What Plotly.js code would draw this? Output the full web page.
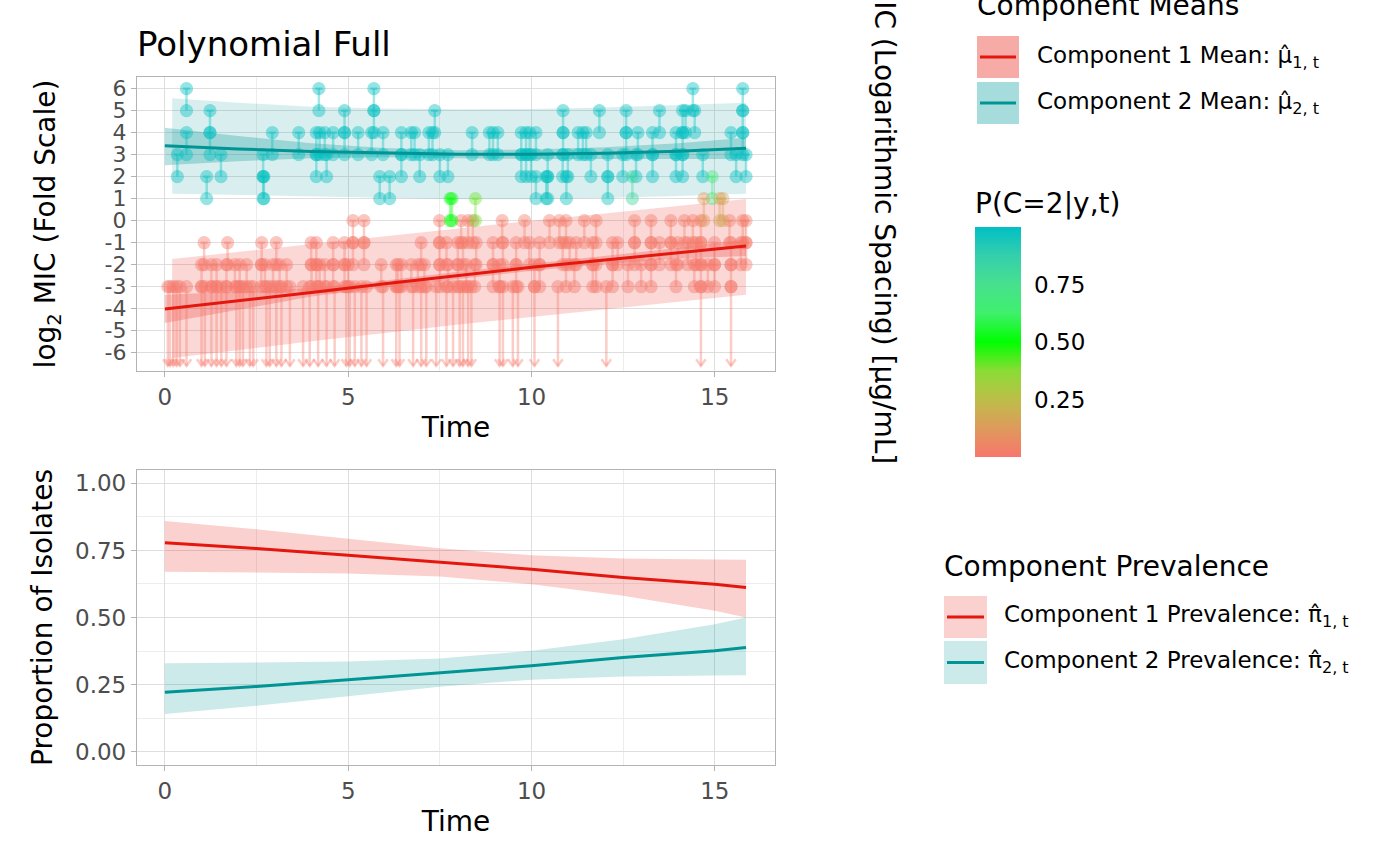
<!DOCTYPE html>
<html>
<head>
<meta charset="utf-8">
<script src="https://cdn.plot.ly/plotly-3.0.1.min.js"></script>
<style>body{margin:0;background:#fff}#plot{width:1400px;height:865px}</style>
</head>
<body>
<div id="plot"></div>
<script>
let plot_div = document.getElementById('plot')

// Fitted component means on the log2 MIC scale, with confidence bands
const fit_time = [0, 2, 4, 6, 8, 10, 12, 14, 15.85]
const mu1 = [-4.01, -3.64, -3.26, -2.86, -2.48, -2.12, -1.79, -1.47, -1.15]
const mu1_lo = [-4.65, -4.05, -3.45, -3.02, -2.64, -2.28, -1.97, -1.72, -1.6]
const mu1_hi = [-3.37, -3.23, -3.07, -2.72, -2.32, -1.96, -1.6, -1.24, -0.85]
const mu2 = [3.41, 3.26, 3.15, 3.07, 3.02, 3.02, 3.07, 3.16, 3.29]
const mu2_lo = [2.52, 2.7, 2.84, 2.88, 2.84, 2.8, 2.8, 2.8, 2.8]
const mu2_hi = [4.22, 3.85, 3.52, 3.3, 3.2, 3.24, 3.34, 3.52, 3.77]

// Prediction bands
const pred_time = [0.2, 2, 4, 6, 8, 10, 12, 14, 15.85]
const pred1_lo = [-6.24, -5.87, -5.48, -5.1, -4.72, -4.38, -4.04, -3.7, -3.36]
const pred1_hi = [-1.74, -1.42, -1.07, -0.7, -0.33, 0.0, 0.33, 0.68, 0.99]
const pred2_lo = [1.23, 1.17, 1.12, 1.03, 0.98, 0.98, 1.03, 1.12, 1.22]
const pred2_hi = [5.56, 5.36, 5.18, 5.1, 5.06, 5.08, 5.14, 5.24, 5.36]

// Component prevalence
const prev_time = [0, 2.5, 5, 7.5, 10, 12.5, 15, 15.85]
const pi1 = [0.779, 0.757, 0.732, 0.707, 0.680, 0.649, 0.624, 0.612]
const pi1_lo = [0.671, 0.667, 0.664, 0.653, 0.624, 0.581, 0.525, 0.500]
const pi1_hi = [0.860, 0.829, 0.794, 0.758, 0.732, 0.720, 0.716, 0.715]
const pi2 = [0.221, 0.243, 0.268, 0.293, 0.320, 0.351, 0.376, 0.388]
const pi2_lo = [0.140, 0.171, 0.206, 0.242, 0.268, 0.280, 0.284, 0.285]
const pi2_hi = [0.329, 0.333, 0.336, 0.347, 0.376, 0.419, 0.475, 0.500]

// Observed isolates, by log2 MIC interval
const cens_time = [0.08, 0.14, 0.23, 0.32, 0.41, 0.59, 1.0, 1.09, 1.27, 1.41, 1.54, 1.68, 1.95, 2.04,
  2.13, 2.32, 2.41, 2.77, 2.86, 3.04, 3.18, 3.41, 3.77, 3.95, 4.18, 4.41, 4.63, 4.95, 5.04, 5.18,
  5.36, 5.5, 5.95, 6.31, 6.4, 6.77, 6.99, 7.13, 7.4, 7.68, 7.86, 8.04, 8.13, 8.27, 8.36, 9.13,
  9.22, 9.49, 9.63, 10.08, 10.72, 12.04, 14.62, 15.44]   // MIC <= 0.125
const red_m3 = [1.0, 1.27, 1.41, 1.68, 1.91, 2.04, 2.23, 2.63, 2.73, 2.95, 3.13, 3.32, 4.0, 4.13,
  4.22, 4.36, 4.59, 4.9, 5.0, 5.9, 6.31, 6.36, 6.45, 6.72, 6.9, 7.08, 7.5, 7.72, 7.99, 8.22, 8.45,
  8.95, 9.13, 9.58, 10.08, 10.22, 10.94, 11.17, 11.67, 11.76, 12.21, 12.63, 12.99, 13.26, 13.94,
  14.44, 14.62, 14.81, 14.99, 15.44]   // (-3, -2]
const red_m2 = [1.07, 1.71, 2.64, 3.04, 3.99, 4.13, 4.59, 4.9, 5.13, 5.43, 6.99, 7.49, 7.68, 7.99,
  8.13, 8.49, 8.95, 9.22, 9.58, 9.94, 10.22, 10.85, 11.04, 11.22, 11.67, 12.21, 12.35, 12.81,
  13.26, 13.49, 13.8, 13.99, 14.26, 14.49, 14.62, 14.99, 15.44, 15.71, 15.85]   // (-2, -1]
const red_m1 = [5.13, 5.43, 7.49, 8.08, 8.27, 8.4, 9.2, 9.81, 10.49, 10.76, 10.94, 11.44, 11.76,
  12.81, 13.26, 13.8, 14.17, 14.4, 14.62, 15.4, 15.76, 15.85]   // (-1, 0]
const cyan_5 = [0.59, 4.2, 5.7, 14.4, 15.76]   // (5, 6]
const cyan_4 = [1.23, 4.9, 5.7, 7.36, 10.86, 11.85, 12.58, 13.49, 14.12, 14.2, 14.45, 15.76]
const cyan_3 = [0.59, 1.23, 2.93, 3.65, 4.13, 4.22, 4.36, 4.59, 4.9, 5.27, 5.64, 5.95, 6.45, 6.72,
  6.81, 7.2, 7.3, 8.38, 8.85, 8.95, 9.08, 9.72, 9.85, 9.95, 10.12, 10.86, 11.27, 11.4, 11.49,
  12.58, 12.9, 13.3, 13.94, 14.12, 15.44, 15.76]
const cyan_2 = [0.34, 1.53, 2.68, 4.13, 4.41, 6.45, 6.95, 7.5, 7.72, 9.72, 9.85, 9.99, 10.44,
  10.85, 10.99, 11.62, 12.08, 12.49, 12.85, 13.3, 13.94, 14.12, 14.67, 15.58, 15.85]
const cyan_1 = [1.14, 2.68, 2.7, 5.86, 6.13, 10.12, 10.4, 10.44, 10.95, 12.08]
const mix_time = [7.78, 7.83, 8.47, 12.75, 14.93, 14.7, 15.13, 15.22]
const mix_low = [0, 0, 0, 1, 1, 0, 0, 0]
const mix_high = [1, 1, 1, 2, 2, 1, 1, 1]
const mix_p = [0.5, 0.52, 0.4, 0.82, 0.68, 0.12, 0.15, 0.16]

const log2_ticks = [6, 5, 4, 3, 2, 1, 0, -1, -2, -3, -4, -5, -6]
const mic_labels = ['64', '32', '16', '8', '4', '2', '1', '0.5', '0.25', '0.125', '0.06', '0.03', '0.016']
const prob_ticks = [0.25, 0.5, 0.75]

const RED = '#E3170D', TEAL = '#009494'
const colorscale = [[0, '#F8766D'], [0.125, '#DE9A5C'], [0.25, '#BDBE49'], [0.375, '#8ADC35'],
  [0.5, '#00FF00'], [0.625, '#3FF06C'], [0.75, '#47E08E'], [0.875, '#35CFAC'], [1, '#00BFC4']]

function hex(c) { return [1, 3, 5].map(i => parseInt(c.substr(i, 2), 16)) }

function color_for(p, alpha) {
  let i = 1
  while (i < colorscale.length - 1 && colorscale[i][0] < p) i++
  let [p0, c0] = colorscale[i - 1], [p1, c1] = colorscale[i]
  let f = (p - p0) / (p1 - p0), a = hex(c0), b = hex(c1)
  let rgb = a.map((v, k) => Math.round(v + (b[k] - v) * f))
  return 'rgba(' + rgb.join(',') + ',' + alpha + ')'
}

// pixel -> paper helpers for the hand-drawn legends
function px(x) { return (x - 137) / (775 - 137) }
function py(y) { return (765 - y) / (765 - 77) }

const groups = [
  {time: cens_time, low: null, high: -3, p: 0.01},
  {time: red_m3, low: -3, high: -2, p: 0.01},
  {time: red_m2, low: -2, high: -1, p: 0.01},
  {time: red_m1, low: -1, high: 0, p: 0.02},
  {time: cyan_1, low: 1, high: 2, p: 0.98},
  {time: cyan_2, low: 2, high: 3, p: 0.99},
  {time: cyan_3, low: 3, high: 4, p: 0.99},
  {time: cyan_4, low: 4, high: 5, p: 0.99},
  {time: cyan_5, low: 5, high: 6, p: 0.99},
]
for (let [i, t] of mix_time.entries()) {
  groups.push({time: [t], low: mix_low[i], high: mix_high[i], p: mix_p[i]})
}

// Build interval segments (one trace per colour) and end-point markers
const ARROW_END = -6.6
let segs = {}
let mx = [], my = [], mp = []

function add_seg(key, xs, ys) {
  if (!segs[key]) segs[key] = {x: [], y: []}
  segs[key].x.push(...xs, null)
  segs[key].y.push(...ys, null)
}

for (let g of groups) {
  let col = color_for(g.p, 0.38)
  for (let t of g.time) {
    if (g.low === null) {
      add_seg(col, [t, t], [g.high, ARROW_END])
      add_seg(col, [t - 0.13, t, t + 0.13], [ARROW_END + 0.3, ARROW_END, ARROW_END + 0.3])
    } else {
      add_seg(col, [t, t], [g.low, g.high])
      add_seg(col, [t - 0.1, t + 0.1], [g.high, g.high])
      mx.push(t); my.push(g.low); mp.push(g.p)
    }
    mx.push(t); my.push(g.high); mp.push(g.p)
  }
}

var data = []

function band(x, lo, hi, fill, xa, ya) {
  data.push({x: x, y: lo, xaxis: xa, yaxis: ya, mode: 'lines', line: {width: 0}, hoverinfo: 'skip'})
  data.push({x: x, y: hi, xaxis: xa, yaxis: ya, mode: 'lines', line: {width: 0}, fill: 'tonexty',
             fillcolor: fill, hoverinfo: 'skip'})
}

band(pred_time, pred2_lo, pred2_hi, 'rgba(0,148,148,0.15)', 'x', 'y')
band(pred_time, pred1_lo, pred1_hi, 'rgba(232,40,30,0.18)', 'x', 'y')
band(fit_time, mu2_lo, mu2_hi, 'rgba(0,148,148,0.28)', 'x', 'y')
band(fit_time, mu1_lo, mu1_hi, 'rgba(232,40,30,0.25)', 'x', 'y')

for (let key in segs) {
  data.push({x: segs[key].x, y: segs[key].y, xaxis: 'x', yaxis: 'y', mode: 'lines',
             line: {color: key, width: 2.5}, hoverinfo: 'skip'})
}

// colour bar: bar itself spans pixels 227..457, title above it.
// Plotly's own ticks are kept white and outside (invisible) so the labels sit
// where ggplot puts them; the visible white marks are drawn as shapes below.
data.push({
  x: mx, y: my, xaxis: 'x', yaxis: 'y', mode: 'markers', type: 'scatter',
  marker: {
    size: 12, color: mp, colorscale: colorscale, cmin: 0, cmax: 1, opacity: 0.42,
    line: {width: 1.2, color: mp, colorscale: colorscale, cmin: 0, cmax: 1},
    showscale: true,
    colorbar: {
      x: px(975), xanchor: 'left', xpad: 0,
      y: py(323), yanchor: 'middle', ypad: 0,
      len: 268, lenmode: 'pixels', thickness: 46, thicknessmode: 'pixels',
      outlinewidth: 0,
      tickvals: prob_ticks, ticktext: prob_ticks.map(v => v.toFixed(2)),
      ticks: 'outside', ticklen: 9, tickwidth: 1, tickcolor: 'white',
      tickfont: {size: 23, color: 'black'},
      title: {text: 'P(C=2|y,t)', side: 'top', font: {size: 28}}
    }
  }
})

data.push({x: fit_time, y: mu2, xaxis: 'x', yaxis: 'y', mode: 'lines', line: {color: TEAL, width: 3}})
data.push({x: fit_time, y: mu1, xaxis: 'x', yaxis: 'y', mode: 'lines', line: {color: RED, width: 3}})

band(prev_time, pi1_lo, pi1_hi, 'rgba(232,24,16,0.2)', 'x2', 'y2')
band(prev_time, pi2_lo, pi2_hi, 'rgba(0,148,148,0.2)', 'x2', 'y2')
data.push({x: prev_time, y: pi1, xaxis: 'x2', yaxis: 'y2', mode: 'lines', line: {color: RED, width: 3}})
data.push({x: prev_time, y: pi2, xaxis: 'x2', yaxis: 'y2', mode: 'lines', line: {color: TEAL, width: 3}})

function axis(extra) {
  return Object.assign({
    showline: true, mirror: true, linecolor: '#B3B3B3', linewidth: 1.3,
    ticks: 'outside', ticklen: 5, tickwidth: 1.3, tickcolor: '#B3B3B3',
    tickfont: {size: 23, color: '#4D4D4D'},
    showgrid: true, gridcolor: '#DEDEDE', gridwidth: 1.2, zeroline: false,
  }, extra)
}

let shapes = []
let annotations = []

function key(x0, y0, x1, y1, fill, line) {
  shapes.push({type: 'rect', xref: 'paper', yref: 'paper', x0: px(x0), x1: px(x1), y0: py(y0), y1: py(y1),
               fillcolor: fill, line: {width: 0}})
  let ym = (y0 + y1) / 2
  shapes.push({type: 'line', xref: 'paper', yref: 'paper', x0: px(x0 + 3), x1: px(x1 - 3), y0: py(ym), y1: py(ym),
               line: {color: line, width: 3}})
}

function label(text, x, y, size) {
  annotations.push({text: text, xref: 'paper', yref: 'paper', x: px(x), y: py(y), xanchor: 'left',
                    yanchor: 'middle', showarrow: false, font: {size: size, color: 'black'}})
}

label('Component Means', 975, 5, 28)
key(977, 36, 1019, 78, '#F6ABA7', RED)
key(977, 82, 1019, 124, '#A6DCDC', TEAL)
label('Component 1 Mean: \u03bc\u0302<sub>1, t</sub>', 1035, 57, 23)
label('Component 2 Mean: \u03bc\u0302<sub>2, t</sub>', 1035, 103, 23)

label('Component Prevalence', 942, 566, 28)
key(944, 596, 987, 638, '#FAD1CF', RED)
key(944, 641, 987, 684, '#CCEAEA', TEAL)
label('Component 1 Prevalence: \u03c0\u0302<sub>1, t</sub>', 1002, 616, 23)
label('Component 2 Prevalence: \u03c0\u0302<sub>2, t</sub>', 1002, 662, 23)

// white tick marks on both edges of the colour bar, as ggplot draws them
for (let v of prob_ticks) {
  let yy = py(457 - v * 230)
  for (let [a, b] of [[975, 983], [1013, 1021]]) {
    shapes.push({type: 'line', xref: 'paper', yref: 'paper', x0: px(a), x1: px(b), y0: yy, y1: yy,
                 line: {color: 'rgba(255,255,255,0.85)', width: 1.5}})
  }
}

annotations.push({text: 'MIC (Logarithmic Spacing) [\u00b5g/mL]', textangle: 90, xref: 'paper', yref: 'paper',
                  x: px(885), y: py(221), xanchor: 'center', yanchor: 'middle', showarrow: false,
                  font: {size: 28, color: 'black'}})

let layout = {
  width: 1400, height: 865,
  margin: {l: 137, r: 625, t: 77, b: 100},
  paper_bgcolor: 'white', plot_bgcolor: 'white',
  font: {family: 'DejaVu Sans', color: 'black'},
  showlegend: false,
  title: {text: 'Polynomial Full', x: 0, xref: 'paper', xanchor: 'left',
          y: 1 - 44 / 865, yref: 'container', yanchor: 'middle', font: {size: 34}},
  xaxis: axis({domain: [0, 1], anchor: 'y', range: [-0.76, 16.64], dtick: 5, tick0: 0,
               minor: {dtick: 2.5, tick0: 0, showgrid: true, gridcolor: '#EDEDED', gridwidth: 0.8},
               title: {text: 'Time', font: {size: 28}, standoff: 8}}),
  yaxis: axis({domain: [py(371), 1], anchor: 'x', range: [-6.83, 6.53],
               tickmode: 'array', tickvals: log2_ticks, ticktext: log2_ticks.map(String),
               tickfont: {size: 22, color: '#4D4D4D'},
               title: {text: 'log<sub>2</sub> MIC (Fold Scale)', font: {size: 28}, standoff: 40}}),
  yaxis3: axis({overlaying: 'y', side: 'right', anchor: 'x', range: [-6.83, 6.53], showline: false,
                showgrid: false, tickmode: 'array', tickvals: log2_ticks, ticktext: mic_labels,
                tickfont: {size: 22, color: '#4D4D4D'}}),
  xaxis2: axis({domain: [0, 1], anchor: 'y2', range: [-0.76, 16.64], dtick: 5, tick0: 0,
                minor: {dtick: 2.5, tick0: 0, showgrid: true, gridcolor: '#EDEDED', gridwidth: 0.8},
                title: {text: 'Time', font: {size: 28}, standoff: 8}}),
  yaxis2: axis({domain: [0, py(470)], anchor: 'x2', range: [-0.05, 1.05],
                tickmode: 'array', tickvals: [0, 0.25, 0.5, 0.75, 1],
                ticktext: ['0.00', '0.25', '0.50', '0.75', '1.00'],
                minor: {dtick: 0.125, tick0: 0, showgrid: true, gridcolor: '#EDEDED', gridwidth: 0.8},
                title: {text: 'Proportion of Isolates', font: {size: 28}, standoff: 14}}),
  shapes: shapes,
  annotations: annotations
}

Plotly.newPlot(plot_div, data, layout, {displayModeBar: false})
</script>
</body>
</html>
